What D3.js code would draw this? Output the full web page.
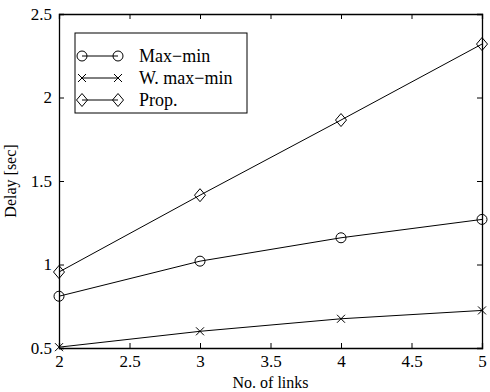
<!DOCTYPE html>
<html><head><meta charset="utf-8">
<script src="https://cdn.jsdelivr.net/npm/d3@7"></script>
<style>body{margin:0;background:#fff}svg{display:block}text{font-family:"Liberation Serif","Times New Roman",serif;fill:#000}</style>
</head><body>
<script>
const links = [2, 3, 4, 5];
const maxMin = [0.81, 1.02, 1.16, 1.27];
const wMaxMin = [0.505, 0.60, 0.675, 0.725];
const prop = [0.955, 1.415, 1.865, 2.32];
const seriesNames = ["Max\u2212min", "W. max\u2212min", "Prop."];
const xTicks = [2, 2.5, 3, 3.5, 4, 4.5, 5];
const yTicks = [0.5, 1, 1.5, 2, 2.5];

const W = 490, H = 392;
const m = {l: 59, r: 8, t: 14, b: 44};
const svg = d3.select("body").append("svg").attr("width", W).attr("height", H);
const x = d3.scaleLinear().domain([2, 5]).range([m.l, W - m.r]);
const y = d3.scaleLinear().domain([0.5, 2.5]).range([H - m.b, m.t]);
const fmt = d => String(d);

// axes with inward ticks
const tl = 5;
const gx = svg.append("g").attr("transform", `translate(0,${H - m.b})`)
  .call(d3.axisBottom(x).tickValues(xTicks).tickFormat(fmt).tickSize(-tl).tickPadding(tl + 2));
const gxt = svg.append("g").attr("transform", `translate(0,${m.t})`)
  .call(d3.axisTop(x).tickValues(xTicks).tickFormat("").tickSize(-tl));
const gy = svg.append("g").attr("transform", `translate(${m.l},0)`)
  .call(d3.axisLeft(y).tickValues(yTicks).tickFormat(fmt).tickSize(-tl).tickPadding(tl + 2));
const gyr = svg.append("g").attr("transform", `translate(${W - m.r},0)`)
  .call(d3.axisRight(y).tickValues(yTicks).tickFormat("").tickSize(-tl));
[gx, gxt, gy, gyr].forEach(g => {
  g.select(".domain").attr("stroke", "#000").attr("stroke-width", 1.3);
  g.selectAll(".tick line").attr("stroke", "#000");
  g.selectAll("text").style("font-size", "17px").style("font-family", '"Liberation Serif",serif');
});
gx.selectAll(".tick text").attr("dy", "0.71em");

const line = d3.line().x((d, i) => x(links[i])).y(d => y(d));
const data = [maxMin, wMaxMin, prop];
const kinds = ["circle", "cross", "diamond"];

function marker(g, kind, cx, cy) {
  if (kind === "circle") g.append("circle").attr("cx", cx).attr("cy", cy).attr("r", 5).attr("fill", "none").attr("stroke", "#000");
  else if (kind === "cross") g.append("path").attr("d", `M${cx-4},${cy-4}L${cx+4},${cy+4}M${cx-4},${cy+4}L${cx+4},${cy-4}`).attr("stroke", "#000").attr("fill", "none");
  else g.append("path").attr("d", `M${cx},${cy-6.5}L${cx+5.5},${cy}L${cx},${cy+6.5}L${cx-5.5},${cy}Z`).attr("stroke", "#000").attr("fill", "none");
}

data.forEach((s, k) => {
  svg.append("path").datum(s).attr("d", line).attr("fill", "none").attr("stroke", "#000").attr("stroke-width", 1);
  const g = svg.append("g");
  s.forEach((v, i) => marker(g, kinds[k], x(links[i]), y(v)));
});

// legend
const lg = svg.append("g");
lg.append("rect").attr("x", 75).attr("y", 33).attr("width", 172).attr("height", 80)
  .attr("fill", "#fff").attr("stroke", "#000").attr("stroke-width", 1);
seriesNames.forEach((n, k) => {
  const yy = 56 + k * 22;
  lg.append("line").attr("x1", 82).attr("x2", 118).attr("y1", yy).attr("y2", yy).attr("stroke", "#000");
  marker(lg, kinds[k], 82, yy);
  marker(lg, kinds[k], 118, yy);
  lg.append("text").attr("x", 139).attr("y", yy).attr("dy", "0.35em").style("font-size", "18px").text(n);
});

svg.append("text").attr("x", (m.l + W - m.r) / 2).attr("y", 388).attr("text-anchor", "middle").style("font-size", "16px").text("No. of links");
svg.append("text").attr("transform", `translate(16,${(m.t + H - m.b) / 2}) rotate(-90)`).attr("text-anchor", "middle").style("font-size", "16px").text("Delay [sec]");
</script>
</body></html>
